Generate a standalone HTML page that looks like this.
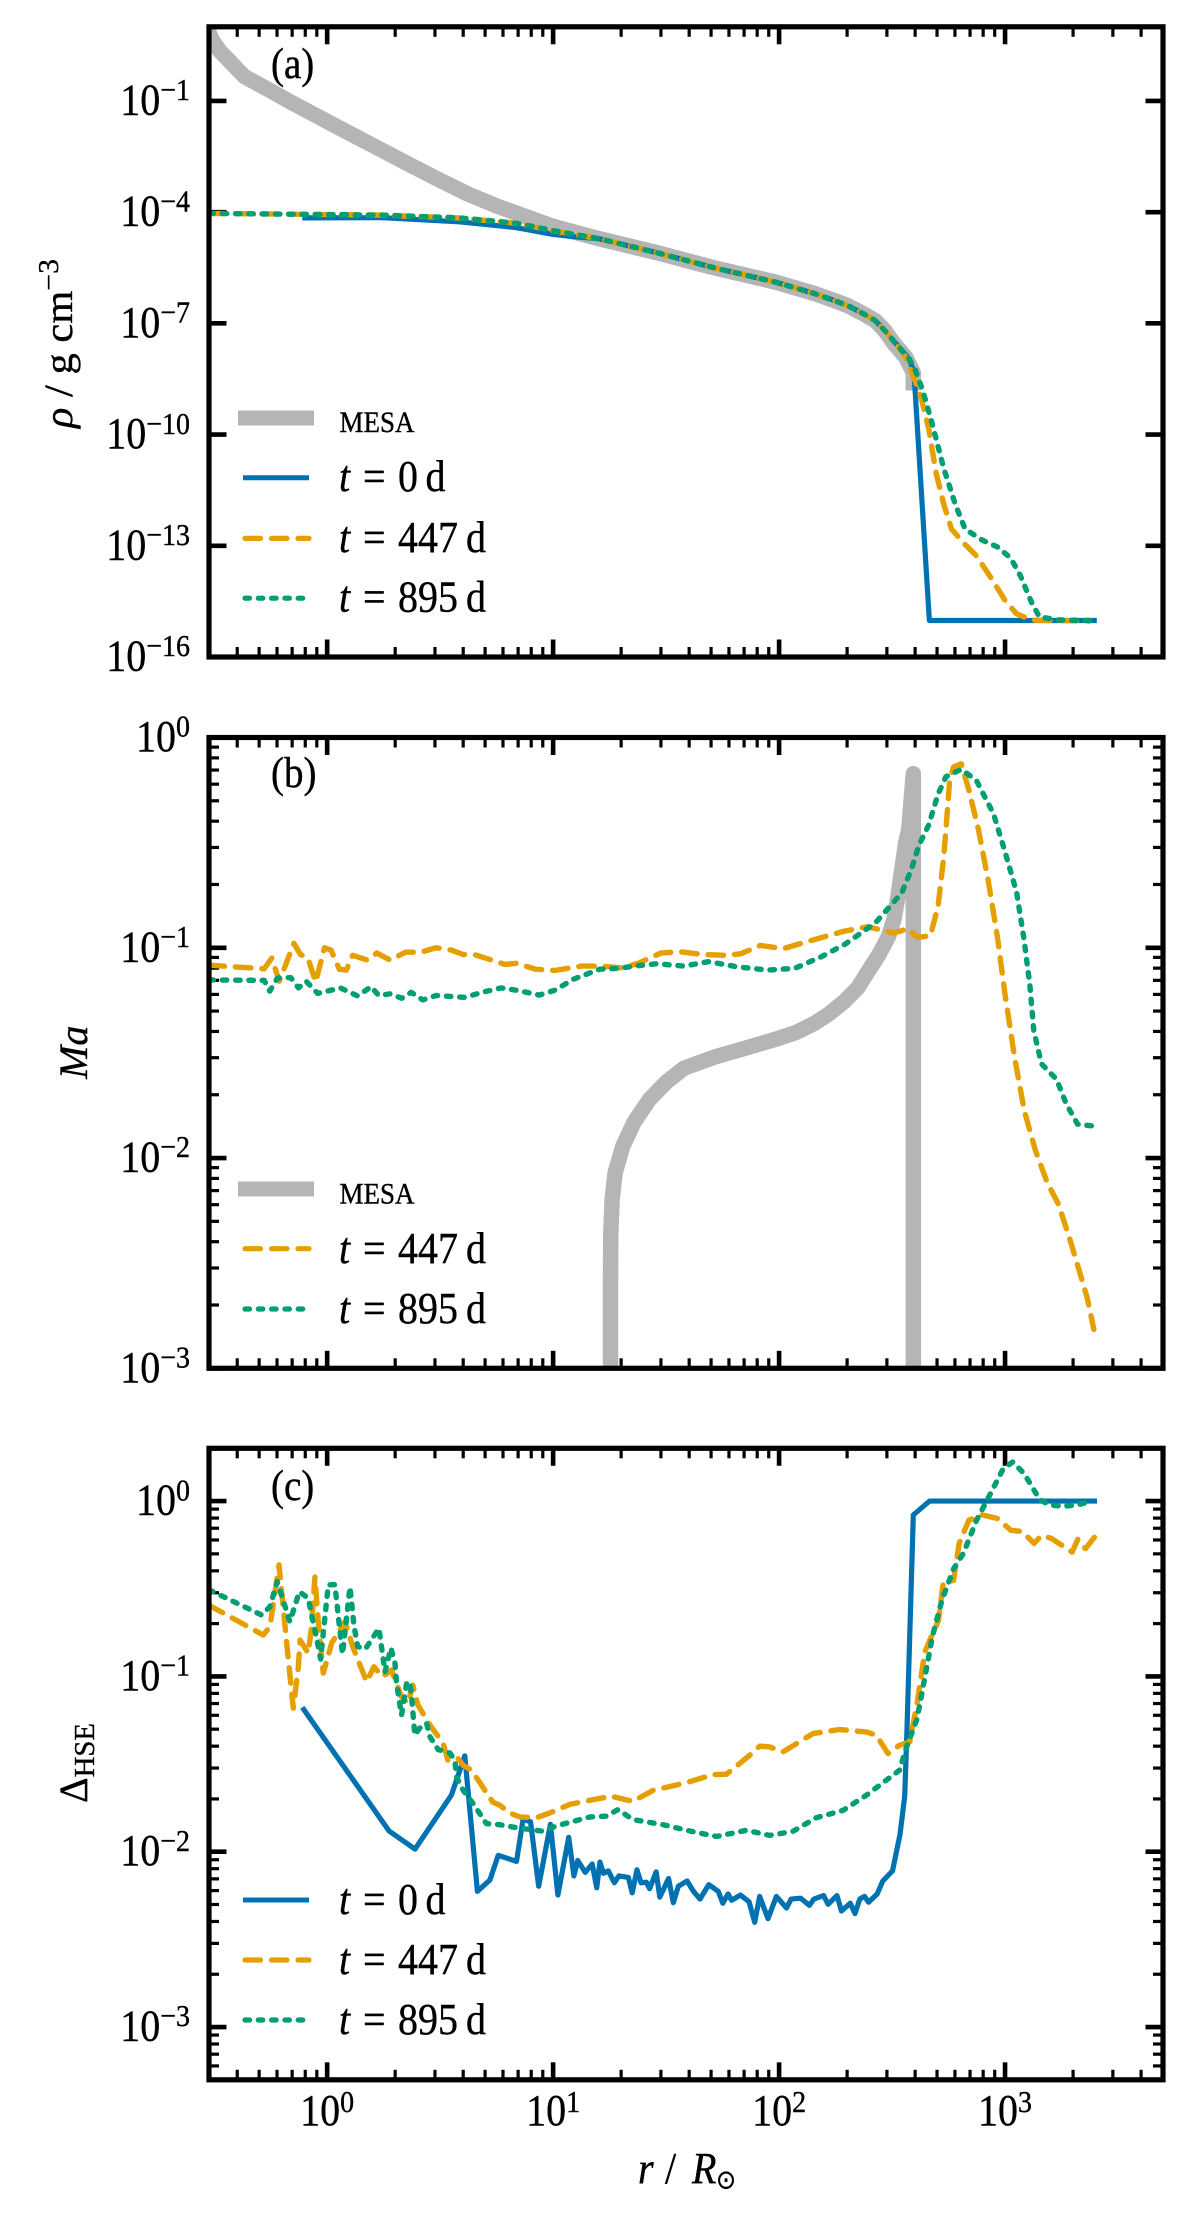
<!DOCTYPE html>
<html lang="en">
<head>
<meta charset="utf-8">
<title>Radial profiles of density, Mach number and hydrostatic deviation</title>
<style>
html,body{margin:0;padding:0;background:#fff;}
svg{display:block;}
text{font-family:"Liberation Serif","DejaVu Serif",serif;fill:#000;stroke:#000;stroke-width:0.35px;}
.sym{font-family:"DejaVu Sans","Liberation Serif",sans-serif;}
</style>
</head>
<body>
<svg id="fig" xmlns="http://www.w3.org/2000/svg" width="1200" height="2227" viewBox="0 0 1200 2227">
<rect x="0" y="0" width="1200" height="2227" fill="#fff"/>
<defs>
<clipPath id="clip-a"><rect x="209" y="26.8" width="954" height="630.2"/></clipPath>
<clipPath id="clip-b"><rect x="209" y="737.5" width="954" height="630.8"/></clipPath>
<clipPath id="clip-c"><rect x="209" y="1448.3" width="954" height="631.5"/></clipPath>
</defs>
<g id="panel-a"></g>
<g id="panel-b"></g>
<g id="panel-c"></g>

<text x="271" y="78" font-size="39">(a)</text>
<text x="271" y="787" font-size="39">(b)</text>
<text x="271" y="1500" font-size="39">(c)</text>

<text transform="translate(72,428) rotate(-90)" font-size="40" textLength="169" lengthAdjust="spacingAndGlyphs"><tspan font-style="italic">ρ</tspan> / g cm<tspan font-size="28" dy="-14">−3</tspan></text>
<text transform="translate(87,1079) rotate(-90)" font-size="40" font-style="italic">Ma</text>
<text transform="translate(87,1803) rotate(-90)" font-size="40" textLength="80" lengthAdjust="spacingAndGlyphs">Δ<tspan font-size="29" dy="7">HSE</tspan></text>
<text y="2183" font-size="40"><tspan x="638" font-style="italic">r</tspan><tspan x="665">/</tspan><tspan x="692" font-style="italic">R</tspan><tspan class="sym" x="716" y="2188" font-size="24">⊙</tspan></text>

<g>
<g><line x1="238" x2="314" y1="418" y2="418" stroke="#b5b5b5" stroke-width="15"/><text x="339.5" y="432" font-size="27">MESA</text></g>
<g><line x1="243" x2="309" y1="477.7" y2="477.7" stroke="#0072B2" stroke-width="5"/><text y="491" font-size="40"><tspan x="339" font-style="italic">t</tspan><tspan x="363">=</tspan><tspan x="398">0</tspan><tspan x="425.5">d</tspan></text></g>
<g><line x1="245" x2="309" y1="538.4" y2="538.4" stroke="#E69F00" stroke-width="5.2" stroke-linecap="round" stroke-dasharray="15.5 11"/><text y="552" font-size="40"><tspan x="339" font-style="italic">t</tspan><tspan x="363">=</tspan><tspan x="398">447</tspan><tspan x="466">d</tspan></text></g>
<g><line x1="245" x2="306" y1="598.2" y2="598.2" stroke="#009E73" stroke-width="5.2" stroke-linecap="round" stroke-dasharray="4.5 8.8"/><text y="611.5" font-size="40"><tspan x="339" font-style="italic">t</tspan><tspan x="363">=</tspan><tspan x="398">895</tspan><tspan x="466">d</tspan></text></g>
</g>

<g>
<g><line x1="238" x2="314" y1="1189" y2="1189" stroke="#b5b5b5" stroke-width="15"/><text x="339.5" y="1203.6" font-size="27">MESA</text></g>
<g><line x1="245" x2="309" y1="1248.7" y2="1248.7" stroke="#E69F00" stroke-width="5.2" stroke-linecap="round" stroke-dasharray="15.5 11"/><text y="1263" font-size="40"><tspan x="339" font-style="italic">t</tspan><tspan x="363">=</tspan><tspan x="398">447</tspan><tspan x="466">d</tspan></text></g>
<g><line x1="245" x2="306" y1="1309" y2="1309" stroke="#009E73" stroke-width="5.2" stroke-linecap="round" stroke-dasharray="4.5 8.8"/><text y="1322.8" font-size="40"><tspan x="339" font-style="italic">t</tspan><tspan x="363">=</tspan><tspan x="398">895</tspan><tspan x="466">d</tspan></text></g>
</g>

<g>
<g><line x1="243" x2="309" y1="1900" y2="1900" stroke="#0072B2" stroke-width="5"/><text y="1914" font-size="40"><tspan x="339" font-style="italic">t</tspan><tspan x="363">=</tspan><tspan x="398">0</tspan><tspan x="425.5">d</tspan></text></g>
<g><line x1="245" x2="309" y1="1960" y2="1960" stroke="#E69F00" stroke-width="5.2" stroke-linecap="round" stroke-dasharray="15.5 11"/><text y="1974" font-size="40"><tspan x="339" font-style="italic">t</tspan><tspan x="363">=</tspan><tspan x="398">447</tspan><tspan x="466">d</tspan></text></g>
<g><line x1="245" x2="306" y1="2020" y2="2020" stroke="#009E73" stroke-width="5.2" stroke-linecap="round" stroke-dasharray="4.5 8.8"/><text y="2034" font-size="40"><tspan x="339" font-style="italic">t</tspan><tspan x="363">=</tspan><tspan x="398">895</tspan><tspan x="466">d</tspan></text></g>
</g>
</svg>

<script>
// All series values are stored as log10 of the plotted quantity.
const xTickExponents = [0, 1, 2, 3];
const rhoTickExponents = [-16, -13, -10, -7, -4, -1];
const machTickExponents = [0, -1, -2, -3];
const hseTickExponents = [0, -1, -2, -3];

// Panel (a): density
const rhoMesaLogR = [-0.533,-0.508,-0.474,-0.431,-0.398,-0.364,-0.262,-0.178,0,0.245,0.372,0.499,0.626,0.753,1.0,1.206,1.46,1.714,1.985,2.154,2.238,2.306,2.374,2.425,2.467,2.509,2.56,2.594,2.594];
const rhoMesaLog = [0.975,0.638,0.337,0.072,-0.145,-0.35,-0.687,-0.976,-1.554,-2.337,-2.74,-3.14,-3.52,-3.84,-4.384,-4.72,-5.094,-5.503,-5.889,-6.19,-6.37,-6.527,-6.744,-6.924,-7.189,-7.55,-7.91,-8.33,-8.81];
const rhoT0LogR = [-0.11,0.245,0.584,0.7,0.838,1.0,1.09,1.206,1.46,1.714,1.985,2.154,2.238,2.306,2.374,2.425,2.467,2.509,2.552,2.577,2.597,2.665,3.406];
const rhoT0Log = [-4.155,-4.15,-4.26,-4.33,-4.42,-4.6,-4.66,-4.72,-5.094,-5.503,-5.889,-6.19,-6.37,-6.527,-6.744,-6.924,-7.189,-7.49,-7.79,-7.972,-8.33,-15.016,-15.016];
const rhoT447LogR = [-0.523,-0.11,0.245,0.584,0.7,0.838,1.0,1.206,1.46,1.714,1.985,2.154,2.238,2.306,2.374,2.425,2.467,2.509,2.56,2.585,2.628,2.662,2.695,2.729,2.763,2.814,2.873,2.932,3.0,3.051,3.118,3.372];
const rhoT447Log = [-4.034,-4.058,-4.08,-4.155,-4.22,-4.3,-4.5,-4.72,-5.094,-5.503,-5.889,-6.19,-6.37,-6.527,-6.744,-6.924,-7.189,-7.49,-7.9,-8.273,-8.995,-9.838,-11.04,-11.885,-12.547,-12.908,-13.27,-13.81,-14.474,-14.835,-15.004,-15.03];
const rhoT895LogR = [-0.523,-0.11,0.245,0.584,0.7,0.838,1.0,1.206,1.46,1.714,1.985,2.154,2.238,2.306,2.374,2.425,2.467,2.509,2.552,2.577,2.602,2.636,2.678,2.729,2.78,2.823,2.899,2.966,3.025,3.068,3.118,3.152,3.237,3.381];
const rhoT895Log = [-4.034,-4.058,-4.08,-4.155,-4.22,-4.3,-4.5,-4.72,-5.094,-5.503,-5.889,-6.19,-6.37,-6.527,-6.744,-6.924,-7.189,-7.49,-7.79,-7.972,-8.249,-8.815,-9.718,-10.92,-11.885,-12.547,-12.848,-13.03,-13.33,-13.81,-14.534,-14.92,-15.0,-15.016];

// Panel (b): Mach number
const machMesaLogR = [1.254,1.254,1.255,1.261,1.274,1.308,1.359,1.426,1.503,1.579,1.714,1.849,1.985,2.07,2.154,2.22,2.289,2.348,2.391,2.442,2.484,2.509,2.526,2.543,2.56,2.574,2.594,2.594];
const machMesaLog = [-3.028,-2.582,-2.369,-2.2,-2.072,-1.945,-1.828,-1.722,-1.637,-1.573,-1.52,-1.478,-1.435,-1.405,-1.361,-1.315,-1.255,-1.191,-1.117,-1.032,-0.947,-0.862,-0.756,-0.628,-0.501,-0.437,-0.172,-3.03];
const machT447LogR = [-0.523,-0.279,-0.245,-0.212,-0.147,-0.118,-0.085,-0.051,-0.012,0.017,0.054,0.085,0.113,0.178,0.22,0.279,0.347,0.415,0.482,0.55,0.601,0.651,0.787,0.838,0.922,1.007,1.125,1.206,1.257,1.308,1.376,1.477,1.562,1.663,1.765,1.832,1.917,2.019,2.12,2.289,2.391,2.509,2.569,2.611,2.67,2.704,2.729,2.755,2.772,2.806,2.839,2.882,2.924,2.966,3.0,3.042,3.085,3.135,3.186,3.237,3.288,3.338,3.364,3.393];
const machT447Log = [-1.083,-1.1,-1.049,-1.159,-0.979,-1.032,-1.049,-1.163,-1.0,-1.011,-1.102,-1.106,-1.036,-1.059,-1.025,-1.059,-1.021,-1.021,-1.0,-1.011,-1.032,-1.032,-1.079,-1.074,-1.102,-1.108,-1.087,-1.087,-1.091,-1.096,-1.074,-1.025,-1.019,-1.032,-1.036,-1.028,-0.989,-1.004,-0.972,-0.921,-0.9,-0.93,-0.909,-0.951,-0.943,-0.798,-0.565,-0.204,-0.14,-0.125,-0.246,-0.437,-0.671,-0.947,-1.223,-1.52,-1.775,-1.966,-2.115,-2.221,-2.391,-2.571,-2.667,-2.815];
const machT895LogR = [-0.523,-0.279,-0.254,-0.22,-0.161,-0.127,-0.093,-0.042,0.059,0.135,0.195,0.228,0.279,0.33,0.372,0.423,0.482,0.609,0.685,0.77,0.838,0.939,1.007,1.091,1.206,1.291,1.359,1.46,1.579,1.689,1.816,1.951,2.069,2.188,2.289,2.425,2.543,2.585,2.619,2.662,2.704,2.738,2.806,2.873,2.949,3.0,3.051,3.085,3.11,3.127,3.161,3.228,3.271,3.321,3.398];
const machT895Log = [-1.153,-1.155,-1.206,-1.144,-1.142,-1.191,-1.159,-1.217,-1.191,-1.229,-1.185,-1.227,-1.219,-1.24,-1.212,-1.248,-1.227,-1.236,-1.212,-1.191,-1.202,-1.225,-1.202,-1.149,-1.102,-1.098,-1.087,-1.076,-1.087,-1.066,-1.091,-1.106,-1.098,-1.042,-0.985,-0.883,-0.739,-0.628,-0.512,-0.416,-0.268,-0.187,-0.151,-0.204,-0.363,-0.544,-0.735,-0.968,-1.18,-1.393,-1.552,-1.626,-1.743,-1.839,-1.849];

// Panel (c): deviation from hydrostatic equilibrium
const hseT0LogR = [-0.11,0.274,0.389,0.55,0.609,0.665,0.72,0.757,0.838,0.867,0.9,0.936,0.988,1.021,1.069,1.092,1.109,1.142,1.173,1.193,1.207,1.223,1.244,1.271,1.291,1.333,1.35,1.371,1.389,1.413,1.427,1.456,1.472,1.511,1.532,1.554,1.593,1.621,1.65,1.689,1.731,1.751,1.774,1.79,1.829,1.867,1.892,1.914,1.951,1.988,2.033,2.053,2.095,2.134,2.154,2.197,2.217,2.256,2.276,2.315,2.336,2.357,2.378,2.396,2.434,2.459,2.502,2.535,2.556,2.566,2.594,2.666,3.407];
const hseT0Log = [-1.177,-1.882,-1.985,-1.677,-1.453,-2.226,-2.162,-2.021,-2.055,-1.815,-1.829,-2.197,-1.844,-2.247,-1.918,-2.138,-2.05,-2.118,-2.07,-2.206,-2.059,-2.123,-2.109,-2.177,-2.138,-2.147,-2.235,-2.103,-2.177,-2.174,-2.211,-2.115,-2.259,-2.153,-2.291,-2.197,-2.167,-2.226,-2.27,-2.188,-2.226,-2.294,-2.241,-2.277,-2.247,-2.285,-2.403,-2.255,-2.382,-2.255,-2.321,-2.27,-2.265,-2.306,-2.27,-2.25,-2.3,-2.25,-2.338,-2.294,-2.353,-2.27,-2.255,-2.288,-2.241,-2.167,-2.109,-1.903,-1.682,-1.3,-0.079,0,0];
const hseT447LogR = [-0.523,-0.283,-0.253,-0.213,-0.176,-0.15,-0.128,-0.12,-0.084,-0.072,-0.054,-0.039,-0.017,0.02,0.079,0.114,0.175,0.207,0.245,0.285,0.329,0.357,0.379,0.402,0.455,0.513,0.534,0.578,0.602,0.639,0.733,0.764,0.808,0.853,0.927,0.985,1.074,1.177,1.258,1.354,1.442,1.59,1.708,1.767,1.87,1.914,1.958,2.017,2.15,2.268,2.386,2.43,2.482,2.533,2.578,2.611,2.645,2.705,2.727,2.772,2.797,2.84,2.899,2.967,3.026,3.077,3.128,3.161,3.204,3.297,3.322,3.356,3.398];
const hseT447Log = [-0.594,-0.764,-0.717,-0.364,-0.85,-1.181,-0.953,-0.793,-0.867,-0.753,-0.433,-0.695,-0.981,-0.81,-0.688,-0.833,-1.031,-0.945,-1.002,-0.964,-1.117,-1.153,-1.05,-1.164,-1.278,-1.381,-1.478,-1.467,-1.507,-1.535,-1.717,-1.735,-1.779,-1.802,-1.806,-1.779,-1.73,-1.703,-1.684,-1.713,-1.65,-1.606,-1.56,-1.558,-1.45,-1.398,-1.402,-1.431,-1.326,-1.303,-1.317,-1.335,-1.44,-1.393,-1.374,-1.153,-0.859,-0.682,-0.461,-0.453,-0.241,-0.109,-0.079,-0.1,-0.167,-0.174,-0.241,-0.197,-0.212,-0.291,-0.218,-0.271,-0.203];
const hseT895LogR = [-0.523,-0.29,-0.253,-0.221,-0.165,-0.123,-0.084,-0.039,-0.029,0.005,0.034,0.068,0.101,0.119,0.135,0.169,0.229,0.256,0.282,0.3,0.307,0.329,0.352,0.366,0.375,0.388,0.41,0.44,0.455,0.491,0.543,0.565,0.573,0.602,0.646,0.705,0.764,0.838,0.949,1.022,1.162,1.236,1.287,1.354,1.487,1.605,1.723,1.855,1.958,2.061,2.165,2.283,2.386,2.533,2.56,2.611,2.645,2.679,2.721,2.772,2.815,2.874,2.916,2.992,3.034,3.085,3.153,3.195,3.254,3.322,3.382];
const hseT895Log = [-0.506,-0.65,-0.602,-0.459,-0.688,-0.517,-0.554,-0.831,-0.901,-0.478,-0.477,-0.873,-0.49,-0.713,-0.83,-0.844,-0.726,-0.974,-0.838,-0.924,-1.038,-1.221,-1.038,-1.031,-1.135,-1.335,-1.295,-1.267,-1.345,-1.417,-1.437,-1.478,-1.574,-1.65,-1.726,-1.84,-1.846,-1.863,-1.882,-1.85,-1.802,-1.797,-1.76,-1.817,-1.846,-1.882,-1.913,-1.878,-1.907,-1.884,-1.806,-1.764,-1.678,-1.535,-1.418,-1.241,-1.006,-0.77,-0.564,-0.387,-0.3,-0.109,-0.006,0.185,0.223,0.156,0.009,-0.021,-0.03,-0.021,0];

const SVG_NS = 'http://www.w3.org/2000/svg';
const AX_LEFT = 209, AX_RIGHT = 1163;
const X_MIN = Math.log10(0.3), X_MAX = Math.log10(5000);

function xScale(logR) {
  return AX_LEFT + (logR - X_MIN) / (X_MAX - X_MIN) * (AX_RIGHT - AX_LEFT);
}
function makeYScale(top, bottom, yMax, yMin) {
  return function (v) {
    return top + (yMax - v) / (yMax - yMin) * (bottom - top);
  };
}
function svgEl(tag) {
  return document.createElementNS(SVG_NS, tag);
}
function drawLine(parent, name, x1, y1, x2, y2, width) {
  const el = svgEl('line');
  
  
  el.setAttribute('x1', x1.toFixed(2));
  el.setAttribute('y1', y1.toFixed(2));
  el.setAttribute('x2', x2.toFixed(2));
  el.setAttribute('y2', y2.toFixed(2));
  el.setAttribute('stroke', '#000');
  el.setAttribute('stroke-width', width);
  parent.appendChild(el);
}
function drawSeries(parent, name, logR, logV, yScale, clipId, stroke, width, dash, cap) {
  const el = svgEl('path');
  
  
  const cmds = logR.map(function (r, i) {
    return (i ? 'L' : 'M') + xScale(r).toFixed(2) + ' ' + yScale(logV[i]).toFixed(2);
  });
  el.setAttribute('d', cmds.join(''));
  el.setAttribute('fill', 'none');
  el.setAttribute('stroke', stroke);
  el.setAttribute('stroke-width', width);
  el.setAttribute('stroke-linejoin', 'round');
  el.setAttribute('stroke-linecap', cap);
  if (dash) el.setAttribute('stroke-dasharray', dash);
  el.setAttribute('clip-path', 'url(#' + clipId + ')');
  parent.appendChild(el);
}
function drawPowerLabel(parent, name, x, y, exponent, anchor, supLift) {
  const el = svgEl('text');
  
  
  el.setAttribute('x', x.toFixed(2));
  el.setAttribute('y', y.toFixed(2));
  el.setAttribute('font-size', '40');
  el.setAttribute('text-anchor', anchor);
  el.textContent = '10';
  const sup = svgEl('tspan');
  sup.setAttribute('font-size', '28');
  sup.setAttribute('dy', supLift);
  sup.textContent = String(exponent).replace('-', '\u2212');
  el.appendChild(sup);
  parent.appendChild(el);
}
function drawAxes(parent, top, bottom, yScale, yMinExp, yMaxExp, yMajors, yMinorsOn, showXLabels) {
  const MAJOR = 17.5, MINOR = 10;
  // x ticks on both the bottom and the top spine
  for (let d = -1; d <= 3; d++) {
    if (d >= 0) {
      drawLine(parent, 'x-major-tick', xScale(d), bottom, xScale(d), bottom - MAJOR, 4.6);
      drawLine(parent, 'x-major-tick-top', xScale(d), top, xScale(d), top + MAJOR, 4.6);
    }
    for (let m = 2; m <= 9; m++) {
      const lx = d + Math.log10(m);
      if (lx <= X_MIN + 0.001 || lx >= X_MAX - 0.001) continue;
      drawLine(parent, 'x-minor-tick', xScale(lx), bottom, xScale(lx), bottom - MINOR, 3.2);
      drawLine(parent, 'x-minor-tick-top', xScale(lx), top, xScale(lx), top + MINOR, 3.2);
    }
  }
  // y ticks on both the left and the right spine
  yMajors.forEach(function (e) {
    if (e < yMaxExp) {
      drawLine(parent, 'y-major-tick', AX_LEFT, yScale(e), AX_LEFT + MAJOR, yScale(e), 4.6);
      drawLine(parent, 'y-major-tick-right', AX_RIGHT, yScale(e), AX_RIGHT - MAJOR, yScale(e), 4.6);
    }
    drawPowerLabel(parent, 'y-tick-label', 190, yScale(e) + 13.5, e, 'end', '-13');
  });
  if (yMinorsOn) {
    for (let d = Math.floor(yMinExp); d < yMaxExp; d++) {
      for (let m = 2; m <= 9; m++) {
        const ly = d + Math.log10(m);
        if (ly <= yMinExp + 0.001 || ly >= yMaxExp - 0.001) continue;
        drawLine(parent, 'y-minor-tick', AX_LEFT, yScale(ly), AX_LEFT + MINOR, yScale(ly), 3.2);
        drawLine(parent, 'y-minor-tick-right', AX_RIGHT, yScale(ly), AX_RIGHT - MINOR, yScale(ly), 3.2);
      }
    }
  }
  if (showXLabels) {
    xTickExponents.forEach(function (e) {
      drawPowerLabel(parent, 'x-tick-label', xScale(e), 2125, e, 'middle', '-12');
    });
  }
}
function drawFrame(parent, name, top, bottom) {
  const el = svgEl('rect');
  
  
  el.setAttribute('x', AX_LEFT);
  el.setAttribute('y', top);
  el.setAttribute('width', AX_RIGHT - AX_LEFT);
  el.setAttribute('height', bottom - top);
  el.setAttribute('fill', 'none');
  el.setAttribute('stroke', '#000');
  el.setAttribute('stroke-width', '5.2');
  parent.appendChild(el);
}

const GREY = '#b5b5b5', BLUE = '#0072B2', ORANGE = '#E69F00', GREEN = '#009E73';
const LONG_DASH = '15.5 11', SHORT_DASH = '4.5 8.8';
const GREY_W = 15.5, BLUE_W = 5.2, DASH_W = 5.4;

// Panel (a)
const panelA = document.getElementById('panel-a');
const yA = makeYScale(26.8, 657, 1, -16);
drawAxes(panelA, 26.8, 657, yA, -16, 1, rhoTickExponents, false, false);
drawSeries(panelA, 'series-mesa-density', rhoMesaLogR, rhoMesaLog, yA, 'clip-a', GREY, GREY_W, '', 'butt');
drawSeries(panelA, 'series-t0-density', rhoT0LogR, rhoT0Log, yA, 'clip-a', BLUE, BLUE_W, '', 'butt');
drawSeries(panelA, 'series-t447-density', rhoT447LogR, rhoT447Log, yA, 'clip-a', ORANGE, DASH_W, LONG_DASH, 'round');
drawSeries(panelA, 'series-t895-density', rhoT895LogR, rhoT895Log, yA, 'clip-a', GREEN, DASH_W, SHORT_DASH, 'round');
drawFrame(panelA, 'panel-a-frame', 26.8, 657);

// Panel (b)
const panelB = document.getElementById('panel-b');
const yB = makeYScale(737.5, 1368.3, 0, -3);
drawAxes(panelB, 737.5, 1368.3, yB, -3, 0, machTickExponents, true, false);
drawSeries(panelB, 'series-mesa-mach', machMesaLogR, machMesaLog, yB, 'clip-b', GREY, GREY_W, '', 'round');
drawSeries(panelB, 'series-t447-mach', machT447LogR, machT447Log, yB, 'clip-b', ORANGE, DASH_W, LONG_DASH, 'round');
drawSeries(panelB, 'series-t895-mach', machT895LogR, machT895Log, yB, 'clip-b', GREEN, DASH_W, SHORT_DASH, 'round');
drawFrame(panelB, 'panel-b-frame', 737.5, 1368.3);

// Panel (c)
const panelC = document.getElementById('panel-c');
const yC = makeYScale(1448.3, 2079.8, Math.log10(2), Math.log10(5e-4));
drawAxes(panelC, 1448.3, 2079.8, yC, Math.log10(5e-4), Math.log10(2), hseTickExponents, true, true);
drawSeries(panelC, 'series-t0-hse', hseT0LogR, hseT0Log, yC, 'clip-c', BLUE, BLUE_W, '', 'butt');
drawSeries(panelC, 'series-t447-hse', hseT447LogR, hseT447Log, yC, 'clip-c', ORANGE, DASH_W, LONG_DASH, 'round');
drawSeries(panelC, 'series-t895-hse', hseT895LogR, hseT895Log, yC, 'clip-c', GREEN, DASH_W, SHORT_DASH, 'round');
drawFrame(panelC, 'panel-c-frame', 1448.3, 2079.8);

// The reference figure is slightly stretched vertically: stretch upright text about its baseline.
document.querySelectorAll('#fig text').forEach(function (t) {
  if (t.getAttribute('transform')) return;
  const base = parseFloat(t.getAttribute('y'));
  t.setAttribute('transform', 'translate(0,' + base + ') scale(1,1.1) translate(0,' + (-base) + ')');
});
</script>
</body>
</html>
